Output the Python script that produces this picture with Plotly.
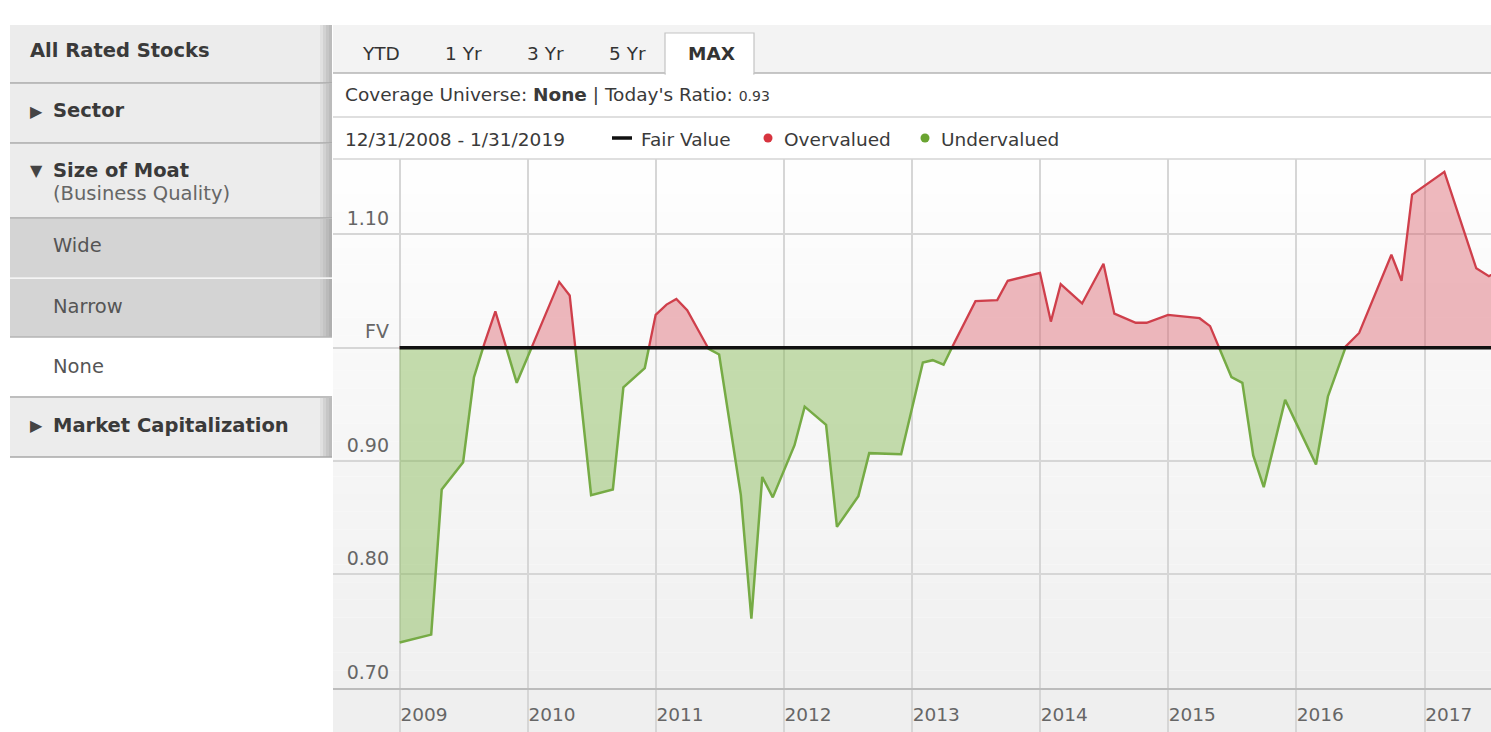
import numpy as np
import pandas as pd
import plotly.graph_objects as go

# ---------------- data ----------------
dates = [
    "2008-12-31", "2009-03-31", "2009-04-30", "2009-06-30", "2009-07-31", "2009-08-31",
    "2009-09-30", "2009-11-30", "2010-03-31", "2010-04-30", "2010-06-30", "2010-08-31",
    "2010-09-30", "2010-11-30", "2010-12-31", "2011-01-31", "2011-02-28", "2011-03-31",
    "2011-05-31", "2011-06-30", "2011-08-31", "2011-09-30", "2011-10-31", "2011-11-30",
    "2012-01-31", "2012-02-29", "2012-04-30", "2012-05-31", "2012-07-31", "2012-08-31",
    "2012-11-30", "2013-01-31", "2013-02-28", "2013-03-31", "2013-04-30", "2013-06-30",
    "2013-08-31", "2013-09-30", "2013-12-31", "2014-01-31", "2014-02-28", "2014-04-30",
    "2014-06-30", "2014-07-31", "2014-09-30", "2014-10-31", "2014-12-31", "2015-03-31",
    "2015-04-30", "2015-06-30", "2015-07-31", "2015-08-31", "2015-09-30", "2015-11-30",
    "2016-02-26", "2016-03-31", "2016-05-20", "2016-06-28", "2016-09-28", "2016-10-27",
    "2016-11-26", "2017-02-26", "2017-05-28", "2017-07-03", "2017-07-31",
]
ratio = [
    0.740, 0.747, 0.875, 0.899, 0.974, 1.005,
    1.032, 0.969, 1.058, 1.046, 0.870, 0.875,
    0.965, 0.982, 1.029, 1.038, 1.043, 1.033,
    0.999, 0.994, 0.870, 0.761, 0.886, 0.868,
    0.914, 0.948, 0.932, 0.842, 0.869, 0.907,
    0.906, 0.987, 0.989, 0.985, 1.004, 1.041,
    1.042, 1.059, 1.066, 1.023, 1.056, 1.039,
    1.074, 1.030, 1.022, 1.022, 1.029, 1.026,
    1.019, 0.974, 0.969, 0.905, 0.877, 0.954,
    0.897, 0.957, 1.001, 1.013, 1.082, 1.059,
    1.135, 1.155, 1.070, 1.063, 1.068,
]
fair_value = 1.0

year_ticks = ["2009-01-01", "2010-01-01", "2011-01-01", "2012-01-01", "2013-01-01",
              "2014-01-01", "2015-01-01", "2016-01-01", "2017-01-01"]
year_labels = ["2009", "2010", "2011", "2012", "2013", "2014", "2015", "2016", "2017"]
y_tickvals = [0.70, 0.80, 0.90, 1.00, 1.10]
y_ticktext = ["0.70", "0.80", "0.90", "FV", "1.10"]

tabs = ["YTD", "1 Yr", "3 Yr", "5 Yr", "MAX"]
sidebar_labels = ["All Rated Stocks", "Sector", "Size of Moat", "(Business Quality)",
                  "Wide", "Narrow", "None", "Market Capitalization"]
date_range_text = "12/31/2008 - 1/31/2019"
legend_labels = ["Fair Value", "Overvalued", "Undervalued"]
coverage = "None"
todays_ratio = "0.93"

# ---------------- colours / fonts ----------------
FONT = "DejaVu Sans"
RED_LINE = "#cf3f4b"
RED_FILL = "rgba(220,100,110,0.45)"
GREEN_LINE = "#76ab45"
GREEN_FILL = "rgba(130,185,80,0.45)"
GRID = "#d6d6d6"

# ---------------- split into over / under with crossing points ----------------
t = pd.to_datetime(dates).astype("int64").to_numpy() / 1e9
xs, ys = [], []
for i in range(len(t)):
    if i > 0:
        a, b = ratio[i - 1] - fair_value, ratio[i] - fair_value
        if a * b < 0:
            f = a / (a - b)
            xs.append(t[i - 1] + f * (t[i] - t[i - 1]))
            ys.append(fair_value)
    xs.append(t[i])
    ys.append(ratio[i])
x_dt = pd.to_datetime(np.array(xs), unit="s")
ys = np.array(ys)
over = np.maximum(ys, fair_value)
under = np.minimum(ys, fair_value)
base = np.full(len(ys), fair_value)

fig = go.Figure()
fig.add_trace(go.Scatter(x=x_dt, y=base, mode="lines", line=dict(width=0),
                         hoverinfo="skip", showlegend=False))
fig.add_trace(go.Scatter(x=x_dt, y=over, mode="lines", fill="tonexty", fillcolor=RED_FILL,
                         line=dict(color=RED_LINE, width=2.3), name="Overvalued", showlegend=False))
fig.add_trace(go.Scatter(x=x_dt, y=base, mode="lines", line=dict(width=0),
                         hoverinfo="skip", showlegend=False))
fig.add_trace(go.Scatter(x=x_dt, y=under, mode="lines", fill="tonexty", fillcolor=GREEN_FILL,
                         line=dict(color=GREEN_LINE, width=2.5), name="Undervalued", showlegend=False))
fig.add_trace(go.Scatter(x=[dates[0], dates[-1]], y=[fair_value, fair_value], mode="lines",
                         line=dict(color="#111111", width=3.5), name="Fair Value", showlegend=False))

# ---------------- layout geometry (pixels) ----------------
W, H = 1491, 732
L, R, T, B = 333, 0, 159, 44
PW, PH = W - L - R, H - T - B


def px(x):
    return (x - L) / PW


def py(y):
    return (H - B - y) / PH


shapes = []
annotations = []


def rect(x0, y0, x1, y1, fill, line_color=None, line_width=0, layer="below"):
    shapes.append(dict(type="rect", xref="paper", yref="paper",
                       x0=px(x0), x1=px(x1), y0=py(y1), y1=py(y0),
                       fillcolor=fill, layer=layer,
                       line=dict(color=line_color or fill, width=line_width)))


def hline(x0, x1, y, color, width=1, layer="above"):
    shapes.append(dict(type="line", xref="paper", yref="paper",
                       x0=px(x0), x1=px(x1), y0=py(y), y1=py(y),
                       line=dict(color=color, width=width), layer=layer))


def text(x, y, s, size=19, color="#333333", anchor="left", bold=False):
    annotations.append(dict(xref="paper", yref="paper", x=px(x), y=py(y),
                            text=f"<b>{s}</b>" if bold else s, showarrow=False,
                            xanchor=anchor, yanchor="middle", borderpad=0,
                            font=dict(family=FONT, size=size, color=color)))


# plot-area vertical gradient (white -> light grey)
N = 30
for i in range(N):
    c = int(round(255 - 15 * ((i + 0.5) / N) ** 0.8))
    shapes.append(dict(type="rect", xref="paper", yref="paper", x0=0, x1=1,
                       y0=1 - (i + 1) / N, y1=1 - i / N, layer="below",
                       fillcolor=f"rgb({c},{c},{c})", line=dict(width=0)))
# x-axis strip
shapes.append(dict(type="rect", xref="paper", yref="paper", x0=0, x1=1,
                   y0=-B / PH, y1=0, layer="below", fillcolor="#efefef", line=dict(width=0)))

# ---------------- sidebar ----------------
boxes = [(25, 83, "#ececec"), (84, 143, "#ececec"), (144, 218, "#ececec"),
         (219, 278, "#d4d4d4"), (279, 337, "#d4d4d4"), (338, 397, "#ffffff"),
         (398, 457, "#ececec")]
for (y0, y1, c) in boxes:
    rect(10, y0, 332, y1, c)
    if c != "#ffffff":
        shade = (["#e0e0e0", "#d2d2d2", "#c6c6c6", "#bcbcbc"] if c == "#ececec"
                 else ["#cdcdcd", "#c4c4c4", "#bababa", "#b0b0b0"])
        for k, sc in enumerate(shade):
            rect(320 + 3 * k, y0, 323 + 3 * k, y1, sc)
for y, c in [(83, "#a8a8a8"), (143, "#a8a8a8"), (218, "#a8a8a8"), (278, "#f2f2f2"),
             (337, "#b4b4b4"), (397, "#a8a8a8"), (457, "#a8a8a8")]:
    hline(10, 332, y, c, 1.5)

text(29, 50, sidebar_labels[0], 19.5, "#3a3a3a", bold=True)
text(29, 111, "▶", 16, "#444444")
text(52, 110, sidebar_labels[1], 19.5, "#3a3a3a", bold=True)
text(29, 170, "▼", 16, "#444444")
text(52, 170, sidebar_labels[2], 19.5, "#3a3a3a", bold=True)
text(52, 194, sidebar_labels[3], 19.5, "#666666")
text(52, 245, sidebar_labels[4], 19.5, "#555555")
text(52, 306, sidebar_labels[5], 19.5, "#555555")
text(52, 366, sidebar_labels[6], 19.5, "#555555")
text(29, 426, "▶", 16, "#444444")
text(52, 425, sidebar_labels[7], 19.5, "#3a3a3a", bold=True)

# ---------------- header ----------------
rect(333, 25, 1491, 73, "#f3f3f3")
hline(333, 1491, 73, "#b4b4b4", 1.5)
# MAX tab
rect(665, 33, 754, 74, "#ffffff", "#c4c4c4", 1.2, layer="above")
hline(666, 753, 73.8, "#ffffff", 2.5)
for lab, cx in zip(tabs, [381, 463, 545, 627, 711]):
    text(cx, 53, lab, 18.5, "#333333", anchor="center", bold=(lab == "MAX"))

text(344, 95, f"Coverage Universe: <b>{coverage}</b> | Today's Ratio: "
              f"<span style='font-size:14px'>{todays_ratio}</span>", 18.5, "#3a3a3a")
hline(333, 1491, 117, "#d4d4d4", 1.5)
text(344, 139, date_range_text, 18.5, "#3a3a3a")
shapes.append(dict(type="line", xref="paper", yref="paper", x0=px(612), x1=px(632),
                   y0=py(138), y1=py(138), line=dict(color="#111111", width=3.5)))
text(640, 139, legend_labels[0], 18.5, "#3a3a3a")
shapes.append(dict(type="circle", xref="paper", yref="paper", x0=px(763.5), x1=px(772.5),
                   y0=py(142.5), y1=py(133.5), fillcolor="#d7343f", line=dict(width=0)))
text(783, 139, legend_labels[1], 18.5, "#3a3a3a")
shapes.append(dict(type="circle", xref="paper", yref="paper", x0=px(920.5), x1=px(929.5),
                   y0=py(142.5), y1=py(133.5), fillcolor="#6aa431", line=dict(width=0)))
text(940, 139, legend_labels[2], 18.5, "#3a3a3a")
hline(333, 1491, 159, "#d4d4d4", 1.5)

fig.update_layout(
    width=W, height=H,
    margin=dict(l=L, r=R, t=T, b=B, pad=0),
    paper_bgcolor="white", plot_bgcolor="white",
    showlegend=False, hovermode=False,
    font=dict(family=FONT, color="#666666"),
    shapes=shapes, annotations=annotations,
    xaxis=dict(type="date", range=["2008-06-24", "2017-07-09"],
               tickvals=year_ticks, ticktext=year_labels,
               showgrid=True, gridcolor=GRID, gridwidth=1.5,
               ticks="outside", ticklen=44, tickwidth=1.5, tickcolor=GRID,
               showline=True, linecolor="#bcbcbc", linewidth=2,
               tickfont=dict(family=FONT, size=18.5, color="#666666"),
               ticklabelshift=24, ticklabelstandoff=-35,
               zeroline=False, fixedrange=True),
    yaxis=dict(range=[0.6999, 1.1664], tickvals=y_tickvals, ticktext=y_ticktext,
               showgrid=True, gridcolor=GRID, gridwidth=1.5, ticks="",
               tickfont=dict(family=FONT, size=19, color="#666666"),
               ticklabelshift=-16, ticklabelstandoff=-57,
               zeroline=False, showline=False, fixedrange=True),
)

fig.write_html("out.html", config={"displayModeBar": False},
               post_script="document.body.style.margin='0';")
